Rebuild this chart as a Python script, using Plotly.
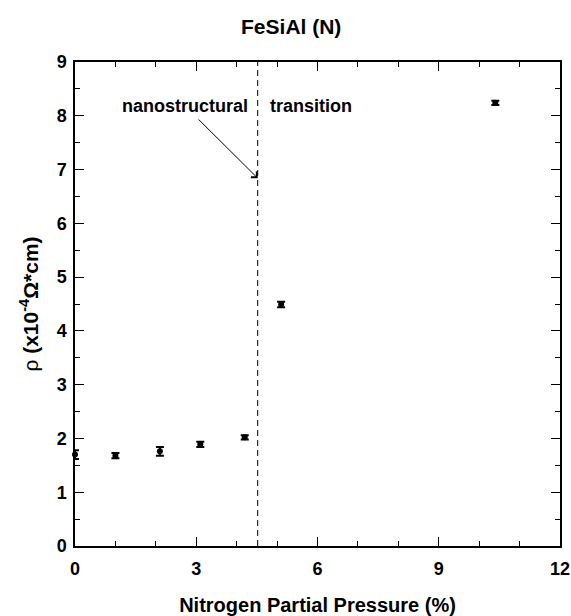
import plotly.graph_objects as go

pressure = [0.0, 1.0, 2.1, 3.1, 4.2, 5.1, 10.4]
rho = [1.70, 1.68, 1.76, 1.89, 2.02, 4.49, 8.24]
rho_err = [0.08, 0.05, 0.08, 0.05, 0.04, 0.05, 0.04]
transition_x = 4.52
x_ticks = [0, 3, 6, 9, 12]
y_ticks = [0, 1, 2, 3, 4, 5, 6, 7, 8, 9]

FONT = "Liberation Sans, Arial, sans-serif"

fig = go.Figure()
fig.add_trace(go.Scatter(
    x=pressure, y=rho, mode="markers",
    marker=dict(color="black", size=6, symbol="circle"),
    error_y=dict(type="data", array=rho_err, color="black", thickness=2, width=4),
    showlegend=False, cliponaxis=False,
))

fig.add_shape(type="line", x0=transition_x, x1=transition_x, y0=0, y1=1,
              xref="x", yref="paper", line=dict(color="black", width=1, dash="6px,4px"))

fig.add_annotation(x=transition_x, y=6.84, ax=3.02, ay=7.96, xref="x", yref="y",
                   axref="x", ayref="y", text="", showarrow=True,
                   arrowhead=4, arrowsize=1.6, arrowwidth=1, arrowcolor="black")
fig.add_annotation(x=4.34, y=8.18, xref="x", yref="y", text="<b>nanostructural</b>",
                   showarrow=False, xanchor="right", yanchor="middle",
                   font=dict(family=FONT, size=18, color="black"))
fig.add_annotation(x=4.78, y=8.18, xref="x", yref="y", text="<b>transition</b>",
                   showarrow=False, xanchor="left", yanchor="middle",
                   font=dict(family=FONT, size=18, color="black"))

axis_common = dict(
    showline=True, linecolor="black", linewidth=1.5, mirror="allticks",
    ticks="inside", ticklen=9, tickwidth=1, tickcolor="black",
    showgrid=False, zeroline=False, automargin=False,
    tickfont=dict(family=FONT, size=18, color="black"),
)

fig.update_xaxes(
    range=[0, 12], tickvals=x_ticks, ticktext=[f"<b>{v}</b>" for v in x_ticks],
    minor=dict(dtick=1, ticks="inside", ticklen=5, tickcolor="black", tickwidth=1, showgrid=False),
    title=dict(text="<b>Nitrogen Partial Pressure (%)</b>",
               font=dict(family=FONT, size=20, color="black"), standoff=20),
    ticklabelstandoff=6,
    **axis_common,
)
fig.update_yaxes(
    range=[0, 9], tickvals=y_ticks, ticktext=[f"<b>{v}</b>" for v in y_ticks],
    minor=dict(dtick=0.5, ticks="inside", ticklen=5, tickcolor="black", tickwidth=1, showgrid=False),
    title=dict(text="<span style='font-weight:normal'>ρ</span> <b>(x10<sup>-4</sup>Ω*cm)</b>",
               font=dict(family=FONT, size=21, color="black"), standoff=12),
    ticklabelstandoff=3,
    **axis_common,
)

fig.update_layout(
    width=571, height=616,
    margin=dict(l=75, r=11, t=62, b=70),
    paper_bgcolor="white", plot_bgcolor="white",
    title=dict(text="<b>FeSiAl (N)</b>", x=0.51, xanchor="center", y=0.956, yanchor="middle",
               font=dict(family=FONT, size=21, color="black")),
)

fig.write_html("out.html")
